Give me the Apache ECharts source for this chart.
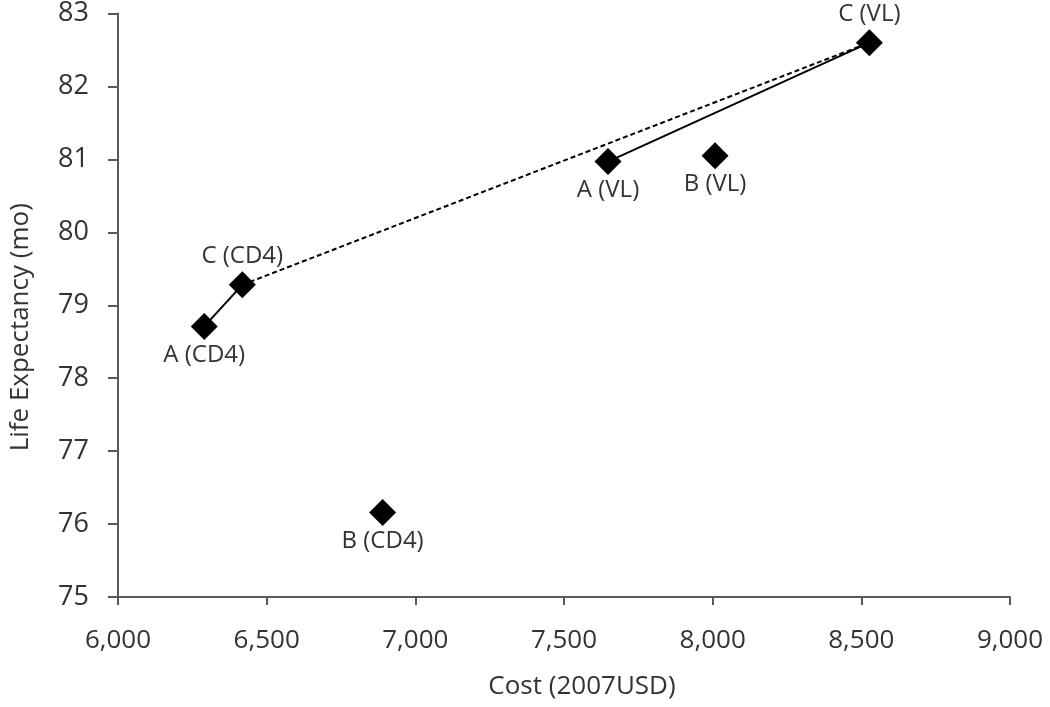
<!DOCTYPE html>
<html><head><meta charset="utf-8">
<script src="https://cdn.jsdelivr.net/npm/echarts@6/dist/echarts.min.js"></script>
<style>html,body{margin:0;padding:0;background:#fff}#c{width:1050px;height:707px}</style>
</head><body><div id="c"></div>
<script>
const names = ['A (CD4)', 'C (CD4)', 'B (CD4)', 'A (VL)', 'B (VL)', 'C (VL)'];
const costs = [6290, 6418, 6890, 7648, 8008, 8527];
const lifeExp = [78.71, 79.28, 76.16, 80.97, 81.05, 82.60];
const labelPos = ['bottom', 'top', 'bottom', 'bottom', 'bottom', 'top'];
// segments (by point index): solid A(CD4)-C(CD4), dashed C(CD4)-C(VL), solid A(VL)-C(VL)
const segments = [[0, 1, 'solid'], [1, 5, 'dashed'], [3, 5, 'solid']];
const xTicks = [6000, 9000, 500];
const yTicks = [75, 83, 1];

const txt = '#333333';
const axisCol = '#595959';
const font = 'Open Sans';
const chart = echarts.init(document.getElementById('c'), null, {renderer: 'canvas'});
const lineSeries = segments.map(s => ({
  type: 'line',
  data: [[costs[s[0]], lifeExp[s[0]]], [costs[s[1]], lifeExp[s[1]]]],
  symbol: 'none',
  lineStyle: {color: '#000', width: 2, opacity: 1, type: s[2] === 'dashed' ? [5, 3] : 'solid'},
  silent: true, z: 2
}));
chart.setOption({
  animation: false,
  grid: {left: 117, right: 40, top: 12, bottom: 110},
  xAxis: {
    type: 'value', min: xTicks[0], max: xTicks[1], interval: xTicks[2],
    name: 'Cost (2007USD)', nameLocation: 'middle', nameGap: 77,
    nameTextStyle: {fontFamily: font, fontSize: 26, color: txt, padding: [0, 0, 0, 36]},
    axisLine: {show: true, lineStyle: {color: axisCol, width: 2}},
    axisTick: {show: true, length: 8, lineStyle: {color: axisCol, width: 2}},
    axisLabel: {margin: 31, fontFamily: font, fontSize: 26, color: txt,
      formatter: v => v.toLocaleString('en-US')},
    splitLine: {show: false}
  },
  yAxis: {
    type: 'value', min: yTicks[0], max: yTicks[1], interval: yTicks[2],
    name: 'Life Expectancy (mo)', nameLocation: 'middle', nameGap: 84, nameRotate: 90,
    nameTextStyle: {fontFamily: font, fontSize: 26, color: txt, padding: [0, 44, 0, 0]},
    axisLine: {show: true, lineStyle: {color: axisCol, width: 2}},
    axisTick: {show: true, inside: false, length: 10, lineStyle: {color: axisCol, width: 2}},
    axisLabel: {margin: 29, fontFamily: font, fontSize: 27, color: txt},
    splitLine: {show: false}
  },
  series: [...lineSeries, {
    type: 'scatter', z: 3,
    symbol: 'diamond', symbolSize: 27,
    itemStyle: {color: '#000', opacity: 1},
    data: names.map((n, i) => ({
      name: n, value: [costs[i], lifeExp[i]],
      label: {show: true, position: labelPos[i], formatter: n, distance: 3,
        fontFamily: font, fontSize: 24, color: txt}
    }))
  }]
});
</script></body></html>
